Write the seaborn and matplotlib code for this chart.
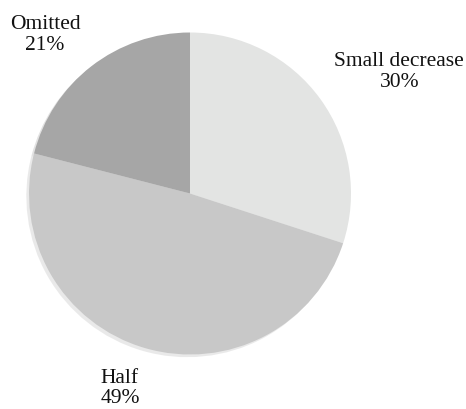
import matplotlib
matplotlib.use("Agg")
import matplotlib.pyplot as plt
import seaborn as sns

categories = ["Small decrease", "Half", "Omitted"]
values = [30, 49, 21]
colors = ["#e3e4e3", "#c8c8c8", "#a6a6a6"]
label_pos = {"Small decrease": (1.30, 0.755), "Half": (-0.435, -1.21), "Omitted": (-0.90, 0.985)}

sns.set_theme(style="white")
plt.rcParams["font.family"] = ["Liberation Serif", "DejaVu Serif"]

W, H = 466, 409
fig = plt.figure(figsize=(W / 100, H / 100), dpi=100)
cx, cy, r = 190, 193.5, 161
ax = fig.add_axes([(cx - r) / W, (H - cy - r) / H, 2 * r / W, 2 * r / H])

ax.pie(values, colors=colors, startangle=90, counterclock=False,
       radius=1, wedgeprops=dict(linewidth=0),
       shadow=dict(ox=-0.012, oy=-0.012, shade=0.15, alpha=0.25))
ax.set_xlim(-1, 1)
ax.set_ylim(-1, 1)
ax.set_aspect("equal")
ax.axis("off")

for cat, v in zip(categories, values):
    x, y = label_pos[cat]
    ax.text(x, y, f"{cat}\n{v}%", ha="center", va="center", fontsize=15.5,
            color="#111111", linespacing=1.1, clip_on=False)

fig.savefig("out.png", dpi=100)
